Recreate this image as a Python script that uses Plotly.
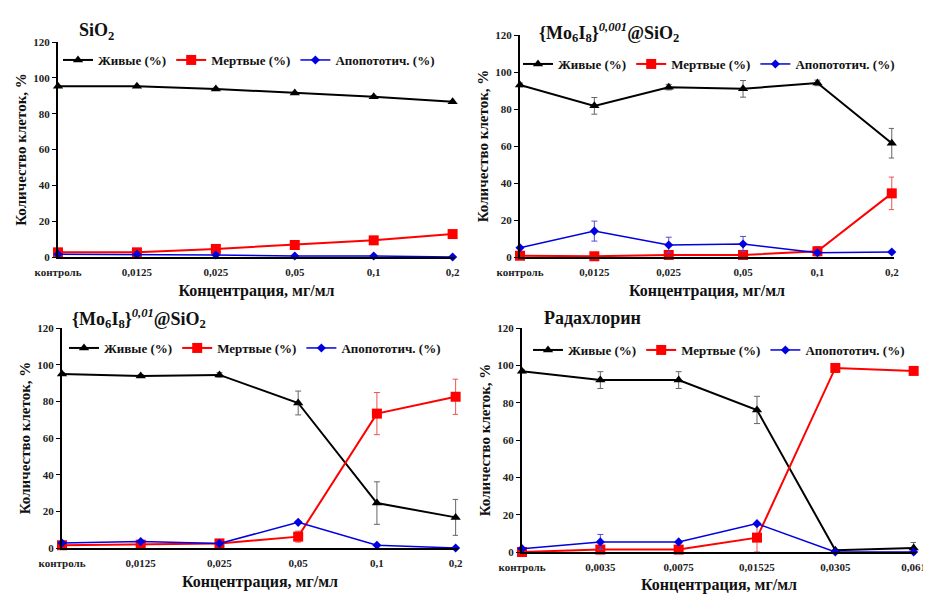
import plotly.graph_objects as go

# The page body adds an 8px margin, so the figure is drawn 8px in from the corner
OFF = 8
W, H = 931 - OFF, 594 - OFF

# ---------------- data ----------------
series_names = ["Живые (%)", "Мертвые (%)", "Апопототич. (%)"]

cats_sio2 = ["контроль", "0,0125", "0,025", "0,05", "0,1", "0,2"]
cats_rad = ["контроль", "0,0035", "0,0075", "0,01525", "0,0305", "0,061"]

titles = [
    "SiO<sub>2</sub>",
    "{Mo<sub>6</sub>I<sub>8</sub>}<sup><i>0,001</i></sup>@SiO<sub>2</sub>",
    "{Mo<sub>6</sub>I<sub>8</sub>}<sup><i>0,01</i></sup>@SiO<sub>2</sub>",
    "Радахлорин",
]

# Panel 1: SiO2
p1_live = [95.3, 95.3, 93.8, 91.5, 89.5, 86.7]
p1_live_err = [0.5, 0.5, 0.5, 0.5, 0.5, 0.5]
p1_dead = [2.6, 2.6, 4.5, 6.7, 9.3, 12.8]
p1_dead_err = [0.3, 0.3, 0.3, 0.3, 0.3, 0.3]
p1_apo = [1.5, 1.5, 1.1, 0.6, 0.6, 0.0]
p1_apo_err = [0.2, 0.2, 0.2, 0.2, 0.2, 0.2]

# Panel 2: {Mo6I8}0,001@SiO2
p2_live = [93.0, 81.7, 91.8, 90.9, 94.1, 61.5]
p2_live_err = [1.0, 4.5, 1.5, 4.5, 1.5, 8.0]
p2_dead = [0.7, 0.4, 1.1, 1.1, 3.1, 34.4]
p2_dead_err = [0.3, 0.3, 0.3, 0.3, 2.5, 8.8]
p2_apo = [5.0, 14.0, 6.5, 7.0, 2.3, 2.7]
p2_apo_err = [0.5, 5.4, 4.2, 4.1, 0.5, 0.5]

# Panel 3: {Mo6I8}0,01@SiO2
p3_live = [94.9, 93.8, 94.4, 79.1, 24.5, 16.7]
p3_live_err = [0.8, 0.8, 1.2, 6.5, 11.6, 9.8]
p3_dead = [1.5, 1.8, 2.5, 6.2, 73.3, 82.5]
p3_dead_err = [0.3, 0.3, 0.5, 3.0, 11.5, 9.6]
p3_apo = [2.7, 3.5, 2.5, 14.0, 1.5, 0.0]
p3_apo_err = [0.3, 0.3, 0.3, 0.5, 0.3, 0.0]

# Panel 4: Радахлорин
p4_live = [96.8, 92.1, 92.1, 76.1, 0.9, 2.1]
p4_live_err = [0.8, 4.5, 4.5, 7.3, 0.3, 3.0]
p4_dead = [0.0, 1.3, 1.3, 7.7, 98.6, 97.0]
p4_dead_err = [0.0, 0.3, 0.3, 7.7, 0.5, 0.5]
p4_apo = [1.8, 5.4, 5.4, 15.2, 0.0, 0.0]
p4_apo_err = [0.3, 4.0, 0.5, 0.5, 0.0, 0.0]

panels = [
    (cats_sio2, [(p1_live, p1_live_err), (p1_dead, p1_dead_err), (p1_apo, p1_apo_err)]),
    (cats_sio2, [(p2_live, p2_live_err), (p2_dead, p2_dead_err), (p2_apo, p2_apo_err)]),
    (cats_sio2, [(p3_live, p3_live_err), (p3_dead, p3_dead_err), (p3_apo, p3_apo_err)]),
    (cats_rad, [(p4_live, p4_live_err), (p4_dead, p4_dead_err), (p4_apo, p4_apo_err)]),
]

# ---------------- styling / layout ----------------
FONT = "Liberation Serif, DejaVu Serif, serif"
colors = ["#000000", "#FF0000", "#0000E0"]
err_colors = ["#666666", "#E85555", "#5050D0"]
symbols = ["triangle-up", "square", "diamond"]
msizes = [9, 10, 7]
lwidths = [2, 2, 1.5]

# plot areas in screen pixels: (x_left, x_right, y_bottom(0), y_top(120))
areas = [
    (58, 455, 257, 42),
    (520, 894, 257, 35),
    (62, 458, 548, 328),
    (522, 916, 552, 328),
]
title_pos = [(77, 32), (537, 33), (70, 318), (542, 318)]
legend_pos = [(58, 60), (518, 64), (64, 348), (528, 350)]


def fx(p):
    return (p - OFF) / W


def fy(p):
    return 1 - (p - OFF) / H


fig = go.Figure()
layout = dict(
    width=W, height=H,
    margin=dict(l=0, r=0, t=0, b=0, autoexpand=False),
    paper_bgcolor="white", plot_bgcolor="white",
    font=dict(family=FONT, color="black"),
    annotations=[],
)

for i, (cats, data) in enumerate(panels):
    n = i + 1
    xa = "x" if n == 1 else f"x{n}"
    ya = "y" if n == 1 else f"y{n}"
    lg = "legend" if n == 1 else f"legend{n}"
    for s, (vals, errs) in enumerate(data):
        fig.add_trace(go.Scatter(
            x=cats, y=vals, name="<b>" + series_names[s] + "</b>",
            mode="lines+markers",
            line=dict(color=colors[s], width=lwidths[s]),
            marker=dict(symbol=symbols[s], size=msizes[s], color=colors[s]),
            error_y=dict(type="data", array=errs, visible=True,
                         color=err_colors[s], thickness=1, width=3),
            xaxis=xa, yaxis=ya, legend=lg, cliponaxis=False,
        ))
    xl, xr, yb, yt = areas[i]
    xkey = "xaxis" if n == 1 else f"xaxis{n}"
    ykey = "yaxis" if n == 1 else f"yaxis{n}"
    layout[xkey] = dict(
        domain=[fx(xl), fx(xr)], anchor=ya, type="category",
        range=[0, len(cats) - 1 + 0.03], automargin=False,
        tickvals=cats, ticktext=["<b>" + c + "</b>" for c in cats],
        showline=True, linecolor="black", linewidth=2,
        ticks="", ticklabelstandoff=4, showgrid=False, zeroline=False,
        tickfont=dict(family=FONT, size=11, color="#222"),
        title=dict(text="<b>Концентрация, мг/мл</b>", standoff=8,
                   font=dict(family=FONT, size=16, color="#111")),
    )
    layout[ykey] = dict(
        domain=[fy(yb), fy(yt)], anchor=xa,
        range=[0, 120], tickvals=[0, 20, 40, 60, 80, 100, 120],
        ticktext=["<b>%d</b>" % v for v in [0, 20, 40, 60, 80, 100, 120]],
        automargin=False,
        showline=True, linecolor="black", linewidth=2,
        ticks="outside", ticklen=4, tickcolor="black",
        showgrid=False, zeroline=False,
        tickfont=dict(family=FONT, size=11, color="#222"),
        title=dict(text="<b>Количество клеток, %</b>", standoff=3,
                   font=dict(family=FONT, size=15, color="#111")),
    )
    lx, ly = legend_pos[i]
    layout[lg] = dict(
        orientation="h", x=fx(lx), y=fy(ly), xanchor="left", yanchor="middle",
        bgcolor="rgba(0,0,0,0)", font=dict(family=FONT, size=13, color="#111"),
        itemwidth=30, tracegroupgap=0, traceorder="normal",
    )
    tx, ty = title_pos[i]
    layout["annotations"].append(dict(
        text="<b>" + titles[i] + "</b>", x=fx(tx), y=fy(ty), xref="paper", yref="paper",
        xanchor="left", yanchor="middle", showarrow=False,
        font=dict(family=FONT, size=18, color="#111"),
    ))

fig.update_layout(**layout)
fig.write_html("out.html")
